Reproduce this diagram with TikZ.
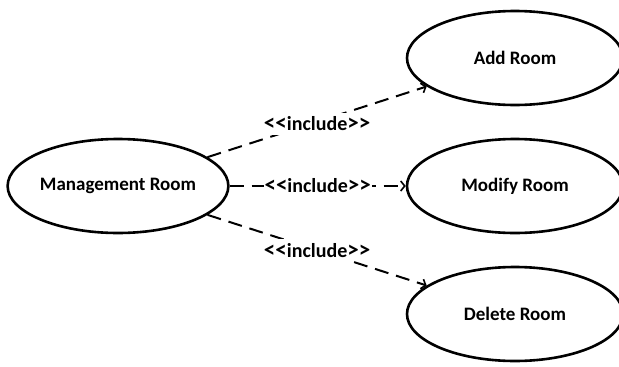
\documentclass[tikz,border=0pt]{standalone}
\usepackage{fontspec}
\setmainfont{Carlito}
\usetikzlibrary{shapes.geometric,arrows.meta}
% stereotype text: angle brackets set a little larger than the word
\newcommand{\brk}[1]{{\fontsize{23}{22}\selectfont{#1}}}
\newcommand{\incltext}{\brk{<}\brk{<}include\brk{>}\brk{>}}
\begin{document}
\begin{tikzpicture}[x=1pt,y=-1pt,
  usecase/.style={ellipse,draw,line width=2.6pt,minimum width=216pt,minimum height=94pt,
    inner sep=0pt,font=\bfseries\fontsize{19}{22}\selectfont},
  incl/.style={line width=2pt,dash pattern=on 14pt off 8pt,
    -{Straight Barb[length=4pt,width=10pt,line width=1.6pt]}},
  tag/.style={fill=white,inner xsep=1pt,inner ysep=4pt,font=\bfseries\fontsize{20}{22}\selectfont}]
  \useasboundingbox (0,0) rectangle (619,367);
  \node[usecase] (mgmt) at (118,186) {Management Room};
  \node[usecase] (add) at (515,58) {Add Room};
  \node[usecase] (mod) at (515,186) {Modify Room};
  \node[usecase] (del) at (515,314) {Delete Room};
  \draw[incl] (mgmt) -- node[tag,yshift=-2pt] {\incltext} (add);
  \draw[incl] (mgmt) -- node[tag] {\incltext} (mod);
  \draw[incl] (mgmt) -- node[tag] {\incltext} (del);
\end{tikzpicture}
\end{document}
